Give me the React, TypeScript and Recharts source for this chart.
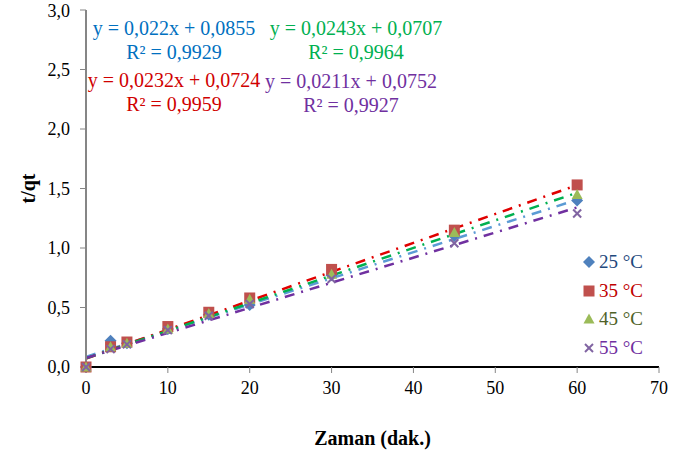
import { ComposedChart, Scatter, Line, XAxis, YAxis, Legend } from 'recharts'

const times = [0, 3, 5, 10, 15, 20, 30, 45, 60]
const t25 = [0, 0.22, 0.2, 0.32, 0.44, 0.52, 0.77, 1.1, 1.4]
const t35 = [0, 0.17, 0.21, 0.34, 0.46, 0.58, 0.82, 1.15, 1.53]
const t45 = [0, 0.17, 0.2, 0.32, 0.45, 0.57, 0.78, 1.13, 1.45]
const t55 = [0, 0.15, 0.19, 0.31, 0.43, 0.53, 0.74, 1.04, 1.29]

const temps = ['25 °C', '35 °C', '45 °C', '55 °C']
// linear fits, same order as temps
const slopes = [0.022, 0.0243, 0.0232, 0.0211]
const intercepts = [0.0855, 0.0707, 0.0724, 0.0752]
const r2 = [0.9929, 0.9964, 0.9959, 0.9927]
const fitRange = [0, 60]

const xTicks = [0, 10, 20, 30, 40, 50, 60, 70]
const yTicks = [0, 0.5, 1, 1.5, 2, 2.5, 3]

const FONT = '"Liberation Serif", "Times New Roman", serif'

const markerColors = ['#4f81bd', '#c0504d', '#9bbb59', '#8064a2']
const lineColors = ['#5b9bd5', '#e00000', '#00b050', '#7030a0']
const eqColors = ['#0070c0', '#00b050', '#d00000', '#7030a0']
const legendColors = ['#1f497d', '#c00000', '#4f6228', '#7030a0']
// centre of each equation block (px), same order as temps
const eqPos = [
  { x: 174, y: 28 },
  { x: 356, y: 28 },
  { x: 174, y: 80 },
  { x: 351, y: 81 },
]

const comma = (v: number) => String(v).replace('.', ',')

function Marker({ kind, cx, cy, color }: { kind: number; cx: number; cy: number; color: string }) {
  if (kind === 0) {
    const r = 6
    return <path d={`M${cx},${cy - r}L${cx + r},${cy}L${cx},${cy + r}L${cx - r},${cy}Z`} fill={color} />
  }
  if (kind === 1) {
    return <rect x={cx - 5.5} y={cy - 5.5} width={11} height={11} fill={color} />
  }
  if (kind === 2) {
    return <path d={`M${cx},${cy - 5.5}L${cx + 5.5},${cy + 4.5}L${cx - 5.5},${cy + 4.5}Z`} fill={color} />
  }
  const r = 4
  return (
    <g stroke={color} strokeWidth={2}>
      <line x1={cx - r} y1={cy - r} x2={cx + r} y2={cy + r} />
      <line x1={cx - r} y1={cy + r} x2={cx + r} y2={cy - r} />
    </g>
  )
}

const series = [t25, t35, t45, t55].map((vals, i) => ({
  name: temps[i],
  points: times.map((x, j) => ({ x, y: vals[j] })),
  fit: fitRange.map((x) => ({ x, y: slopes[i] * x + intercepts[i] })),
}))

function LegendBox() {
  return (
    <div style={{ fontFamily: FONT, fontSize: 19 }}>
      {series.map((s, i) => (
        <div key={s.name} style={{ display: 'flex', alignItems: 'center', height: 28.5 }}>
          <svg width={14} height={14} style={{ marginRight: 3 }}>
            <Marker kind={i} cx={7} cy={7} color={markerColors[i]} />
          </svg>
          <span style={{ color: legendColors[i] }}>{s.name}</span>
        </div>
      ))}
    </div>
  )
}

const YTitle = (props: any) => {
  const vb = props.viewBox
  const x = vb.x + 28
  const y = vb.y + vb.height / 2
  return (
    <text x={x} y={y} transform={`rotate(-90, ${x}, ${y})`} textAnchor="middle" dominantBaseline="central"
      fontFamily={FONT} fontSize={20} fontWeight="bold" fill="#000">
      t/qt
    </text>
  )
}

export default function App() {
  return (
    <div style={{ position: 'absolute', left: 0, top: 0, width: 681, height: 457, background: '#fff' }}>
      <ComposedChart width={681} height={457} margin={{ top: 10, right: 22, left: 0, bottom: 0 }}>
        <XAxis
          type="number"
          dataKey="x"
          domain={[0, 70]}
          ticks={xTicks}
          height={90}
          tickSize={6}
          tickMargin={8}
          tick={{ fontFamily: FONT, fontSize: 18, fill: '#000' }}
          axisLine={{ stroke: '#000', strokeWidth: 2 }}
          tickLine={{ stroke: '#868686' }}
          label={{ value: 'Zaman (dak.)', position: 'insideBottom', offset: 12, fontFamily: FONT, fontSize: 20, fontWeight: 'bold', fill: '#000' }}
        />
        <XAxis xAxisId="top" orientation="top" type="number" domain={[0, 70]} height={0} tick={false} tickLine={false}
          axisLine={{ stroke: '#000', strokeWidth: 2 }} />
        <YAxis
          type="number"
          domain={[0, 3]}
          ticks={yTicks}
          width={86}
          tickSize={6}
          tickMargin={10}
          tickFormatter={(v: number) => v.toFixed(1).replace('.', ',')}
          tick={{ fontFamily: FONT, fontSize: 18, fill: '#000' }}
          axisLine={{ stroke: '#868686', strokeWidth: 2 }}
          tickLine={{ stroke: '#868686' }}
          label={<YTitle />}
        />
        <YAxis yAxisId="right" orientation="right" type="number" domain={[0, 3]} width={0} tick={false} tickLine={false}
          axisLine={{ stroke: '#000', strokeWidth: 2 }} />
        {series.map((s, i) => (
          <Scatter
            key={s.name}
            name={s.name}
            data={s.points}
            dataKey="y"
            isAnimationActive={false}
            shape={(p: any) => <Marker kind={i} cx={p.cx} cy={p.cy} color={markerColors[i]} />}
          />
        ))}
        {series.map((s, i) => (
          <Line
            key={`fit-${s.name}`}
            data={s.fit}
            dataKey="y"
            type="linear"
            stroke={lineColors[i]}
            strokeWidth={2.5}
            strokeDasharray="10 7 2 7"
            dot={false}
            activeDot={false}
            legendType="none"
            isAnimationActive={false}
          />
        ))}
        <Legend layout="vertical" align="center" verticalAlign="middle"
          wrapperStyle={{ left: 582, top: 248, width: 90 }} content={() => <LegendBox />} />
      </ComposedChart>
      {series.map((s, i) => (
        <div key={`eq-${s.name}`} style={{
          position: 'absolute', left: eqPos[i].x, top: eqPos[i].y, transform: 'translate(-50%, -12px)',
          fontFamily: FONT, fontSize: 20, lineHeight: '24px', color: eqColors[i], textAlign: 'center', whiteSpace: 'nowrap',
        }}>
          <div>{`y = ${comma(slopes[i])}x + ${comma(intercepts[i])}`}</div>
          <div>{`R² = ${comma(r2[i])}`}</div>
        </div>
      ))}
    </div>
  )
}
